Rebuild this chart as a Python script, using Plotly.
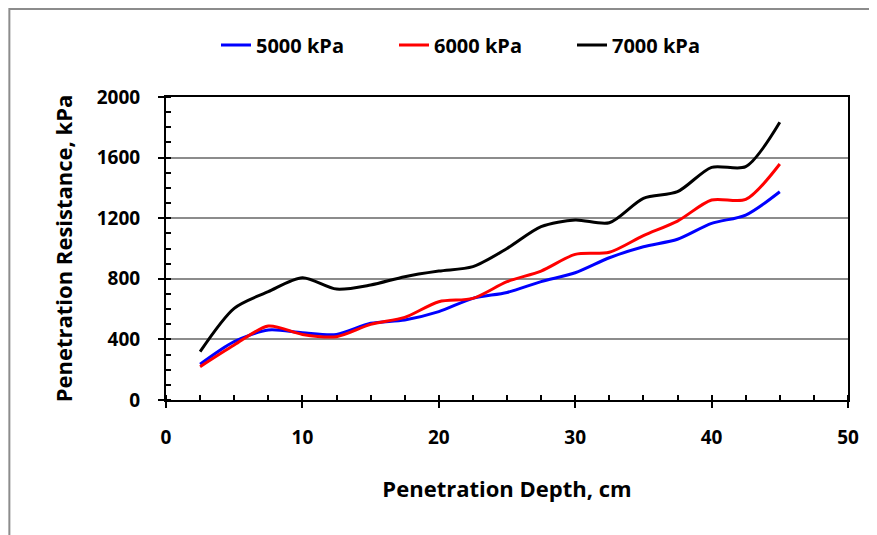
import plotly.graph_objects as go

depth = [2.5, 5, 7.5, 10, 12.5, 15, 17.5, 20, 22.5, 25, 27.5, 30, 32.5, 35, 37.5, 40, 42.5, 45]
p5000 = [236, 385, 462, 444, 433, 506, 528, 583, 671, 710, 781, 840, 939, 1012, 1061, 1166, 1221, 1375]
p6000 = [220, 363, 488, 433, 418, 499, 545, 649, 671, 781, 851, 961, 975, 1085, 1181, 1320, 1324, 1558]
p7000 = [319, 605, 715, 807, 732, 759, 814, 851, 880, 1000, 1144, 1188, 1170, 1331, 1375, 1536, 1540, 1833]

names = ["5000 kPa", "6000 kPa", "7000 kPa"]
colors = ["#0000ff", "#ff0000", "#000000"]

fig = go.Figure()
for ys, nm, c in zip([p5000, p6000, p7000], names, colors):
    fig.add_trace(go.Scatter(x=depth, y=ys, name=nm, mode="lines",
                             line=dict(color=c, width=3, shape="spline", smoothing=0.8)))

font = "'Open Sans', sans-serif"
W, H = 869, 527
fig.update_layout(
    width=W, height=H,
    margin=dict(l=158, r=29, t=89, b=135, autoexpand=False),
    paper_bgcolor="white", plot_bgcolor="white",
    font=dict(family=font, size=19, color="black", weight="bold"),
    legend=dict(orientation="h", xref="container", x=208 / W, xanchor="left",
                yref="container", y=1 - 37 / H, yanchor="middle",
                font=dict(size=20, family=font, weight="bold", color="black"),
                bgcolor="rgba(0,0,0,0)", entrywidth=133, entrywidthmode="pixels"),
    showlegend=True,
)

fig.update_xaxes(
    range=[0, 50], dtick=10, tick0=0,
    showline=True, linecolor="black", linewidth=2, mirror=True,
    ticks="outside", ticklen=6, tickwidth=2, tickcolor="black",
    minor=dict(dtick=2.5, ticks="inside", ticklen=5, tickwidth=2, tickcolor="black"),
    showgrid=False, zeroline=False,
    tickfont=dict(size=19, family=font, weight="bold"),
    ticklabelstandoff=13,
    title=dict(text="Penetration Depth, cm", font=dict(size=22, family=font, weight="bold"), standoff=33),
)
fig.update_yaxes(
    range=[0, 2000], dtick=400, tick0=0,
    showline=True, linecolor="black", linewidth=2, mirror=True,
    ticks="outside", ticklen=6, tickwidth=2, tickcolor="black",
    minor=dict(dtick=100, ticks="inside", ticklen=5, tickwidth=2, tickcolor="black"),
    showgrid=True, gridcolor="#8c8c8c", gridwidth=1.5, zeroline=False,
    tickfont=dict(size=19, family=font, weight="bold"),
    ticklabelstandoff=14,
    title=dict(text="Penetration Resistance, kPa", font=dict(size=22, family=font, weight="bold"), standoff=18),
)

fig.add_shape(type="rect", xref="paper", yref="paper",
              x0=-158 / 682 + 0.002, x1=1.2, y0=-0.7, y1=1 + 89 / 303 - 0.003,
              line=dict(color="#8c8c8c", width=2), fillcolor="rgba(0,0,0,0)", layer="below")

fig.write_html("out.html")
